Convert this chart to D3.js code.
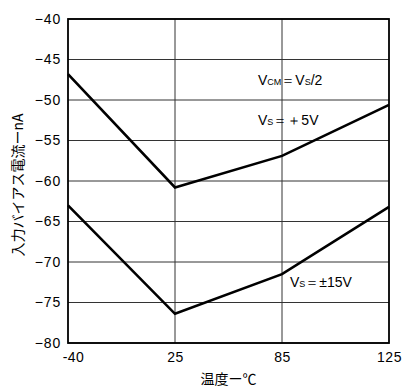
<!DOCTYPE html>
<html>
<head>
<meta charset="utf-8">
<script src="https://cdn.jsdelivr.net/npm/d3@7"></script>
<style>
  body { margin: 0; background: #fff; }
  svg { font-family: "Liberation Sans", Arial, sans-serif; }
</style>
</head>
<body>
<svg id="chart" width="402" height="387"></svg>
<script>
var temps = [-40, 25, 85, 125];
var vs5 = [-46.8, -60.8, -56.9, -50.6];
var vs15 = [-63.0, -76.4, -71.5, -63.2];
var yTicks = [-40, -45, -50, -55, -60, -65, -70, -75, -80];

InitChart();

function InitChart() {
  var svg = d3.select('#chart'),
    MARGINS = { top: 19, right: 13, bottom: 44, left: 68 },
    WIDTH = 402,
    HEIGHT = 387,
    x = d3.scalePoint().domain(temps).range([MARGINS.left, WIDTH - MARGINS.right]),
    y = d3.scaleLinear().domain([-80, -40]).range([HEIGHT - MARGINS.bottom, MARGINS.top]);

  // grid
  svg.append('g').selectAll('line.h')
    .data(yTicks)
    .enter().append('line')
    .attr('x1', MARGINS.left).attr('x2', WIDTH - MARGINS.right)
    .attr('y1', function(d) { return y(d); }).attr('y2', function(d) { return y(d); })
    .attr('stroke', '#333').attr('stroke-width', 1);

  svg.append('g').selectAll('line.v')
    .data(temps.slice(1, -1))
    .enter().append('line')
    .attr('x1', function(d) { return x(d); }).attr('x2', function(d) { return x(d); })
    .attr('y1', MARGINS.top).attr('y2', HEIGHT - MARGINS.bottom)
    .attr('stroke', '#333').attr('stroke-width', 1);

  // frame
  svg.append('rect')
    .attr('x', MARGINS.left).attr('y', MARGINS.top)
    .attr('width', WIDTH - MARGINS.right - MARGINS.left)
    .attr('height', HEIGHT - MARGINS.bottom - MARGINS.top)
    .attr('fill', 'none').attr('stroke', '#000').attr('stroke-width', 1.8);

  // axes (labels only)
  var yAxis = d3.axisLeft(y).tickValues(yTicks).tickSize(0).tickPadding(7);
  var gy = svg.append('g')
    .attr('transform', 'translate(' + MARGINS.left + ',0)')
    .call(yAxis);
  gy.select('.domain').remove();
  gy.selectAll('text')
    .attr('font-size', 14).attr('fill', '#000')
    .attr('letter-spacing', 0.8)
    .attr('font-family', '"Liberation Sans", Arial, sans-serif');

  var xAxis = d3.axisBottom(x).tickSize(0).tickPadding(9);
  var gx = svg.append('g')
    .attr('transform', 'translate(0,' + (HEIGHT - MARGINS.bottom) + ')')
    .call(xAxis);
  gx.select('.domain').remove();
  gx.selectAll('text')
    .attr('font-size', 14).attr('fill', '#000')
    .attr('letter-spacing', 0.5)
    .attr('font-family', '"Liberation Sans", Arial, sans-serif')
    .attr('dx', function(d, i) { return i === 0 ? 5 : (i === temps.length - 1 ? 0 : 0); });

  // lines
  var line = d3.line()
    .x(function(d, i) { return x(temps[i]); })
    .y(function(d) { return y(d); });

  [vs5, vs15].forEach(function(s) {
    svg.append('path')
      .datum(s)
      .attr('d', line)
      .attr('fill', 'none')
      .attr('stroke', '#000')
      .attr('stroke-width', 2.6)
      .attr('stroke-linejoin', 'miter');
  });

  // annotations
  function label(px, py, parts) {
    var t = svg.append('text').attr('x', px).attr('y', py)
      .attr('font-size', 14).attr('fill', '#000');
    parts.forEach(function(p) {
      t.append('tspan').attr('font-size', p[1]).text(p[0]);
    });
  }
  label(258, 85, [['V', 14], ['CM', 9], ['\uFF1D', 14], ['V', 14], ['S', 9], ['/2', 14]]);
  label(258, 125, [['V', 14], ['S', 9], ['\uFF1D', 14], ['\uFF0B', 14], ['5V', 14]]);
  label(290, 287, [['V', 14], ['S', 9], ['\uFF1D', 14], ['\u00B1', 14], ['15V', 14]]);

  // axis titles
  svg.append('text')
    .attr('x', (MARGINS.left + WIDTH - MARGINS.right) / 2)
    .attr('y', 384)
    .attr('text-anchor', 'middle')
    .attr('font-size', 14)
    .attr('font-family', '"Noto Sans CJK JP", sans-serif')
    .text('温度ー℃');

  svg.append('text')
    .attr('transform', 'translate(23,' + ((MARGINS.top + HEIGHT - MARGINS.bottom) / 2 + 4) + ') rotate(-90)')
    .attr('text-anchor', 'middle')
    .attr('font-size', 14)
    .attr('font-family', '"Noto Sans CJK JP", sans-serif')
    .text('入力バイアス電流ーnA');
}
</script>
</body>
</html>
